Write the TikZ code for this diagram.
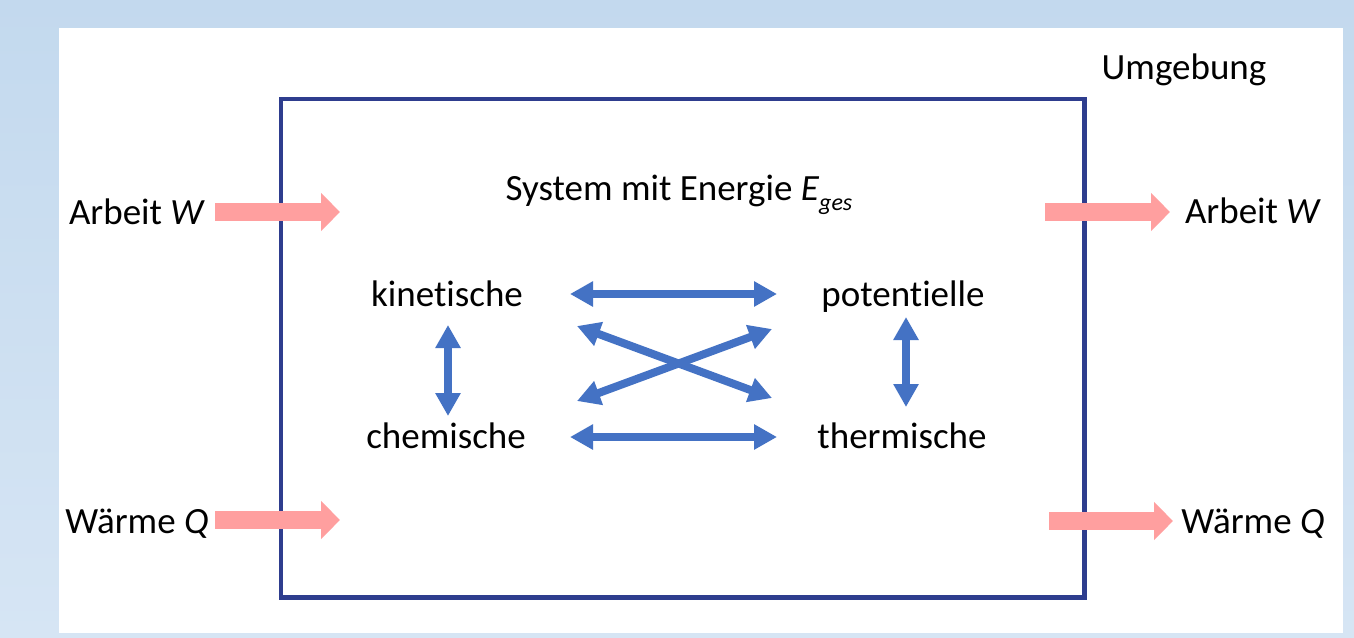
\documentclass[tikz,border=0pt]{standalone}
\usepackage{fontspec}
\setmainfont{Carlito}[Ligatures={NoCommon,NoContextual}]
\usetikzlibrary{arrows.meta}
\definecolor{bgtop}{HTML}{C3D9EE}
\definecolor{bgbot}{HTML}{D6E5F4}
\definecolor{sysblue}{HTML}{2E3D8E}
\definecolor{flowblue}{HTML}{4472C4}
\definecolor{pinkarr}{HTML}{FF9F9F}
\tikzset{
  lbl/.style={anchor=base, inner sep=0pt, font=\fontsize{37}{44}\selectfont, text=black},
  flow/.style={draw=pinkarr, line width=18pt, -{Triangle[width=37pt,length=19pt]}},
  exch/.style={draw=flowblue, line width=8pt, {Triangle[width=24pt,length=23pt]}-{Triangle[width=24pt,length=23pt]}},
  sysbox/.style={draw=sysblue, line width=4.5pt},
}
\begin{document}
\begin{tikzpicture}[x=1pt,y=-1pt]
\useasboundingbox (0,0) rectangle (1354,637);
\shade[top color=bgtop, bottom color=bgbot] (0,0) rectangle (1354,637);
\fill[white] (59,28) rectangle (1343,633);
\node[sysbox, minimum width=803.5pt, minimum height=498.5pt, inner sep=0pt, anchor=north west] (sys) at (278.5,96.5) {};
% labels
\node[lbl] (umg) at (1184,79) {Umgebung};
\node[lbl] (title) at (679,200) {System mit Energie \textit{E}\raisebox{-0.28em}{\fontsize{24}{24}\selectfont\itshape ges}};
\node[lbl] (kin) at (447,306) {kinetische};
\node[lbl] (pot) at (903,306) {potentielle};
\node[lbl] (che) at (446,448) {chemische};
\node[lbl] (the) at (902,448) {thermische};
\node[lbl] (awl) at (137,224) {Arbeit \textit{W}};
\node[lbl] (wql) at (137,533) {Wärme \textit{Q}};
\node[lbl] (awr) at (1253,223) {Arbeit \textit{W}};
\node[lbl] (wqr) at (1253,533) {Wärme \textit{Q}};
% pink flow arrows
\coordinate (awl1) at (215,212); \coordinate (awl2) at (340,212);
\coordinate (wql1) at (215,520); \coordinate (wql2) at (340,520);
\coordinate (awr1) at (1045,212); \coordinate (awr2) at (1170,212);
\coordinate (wqr1) at (1049,521); \coordinate (wqr2) at (1173,521);
\draw[flow] (awl1) -- (awl2);
\draw[flow] (wql1) -- (wql2);
\draw[flow] (awr1) -- (awr2);
\draw[flow] (wqr1) -- (wqr2);
% blue exchange arrows
\coordinate (h1a) at (570,294); \coordinate (h1b) at (777,294);
\coordinate (h2a) at (570,437); \coordinate (h2b) at (777,437);
\coordinate (c1a) at (577,326); \coordinate (c1b) at (772,398);
\coordinate (c2a) at (577,401); \coordinate (c2b) at (772,329);
\coordinate (v1a) at (448,325); \coordinate (v1b) at (448,416);
\coordinate (v2a) at (906,317); \coordinate (v2b) at (906,407);
\draw[exch] (h1a) -- (h1b);
\draw[exch] (h2a) -- (h2b);
\draw[exch] (c1a) -- (c1b);
\draw[exch] (c2a) -- (c2b);
\draw[exch] (v1a) -- (v1b);
\draw[exch] (v2a) -- (v2b);
\end{tikzpicture}
\end{document}
